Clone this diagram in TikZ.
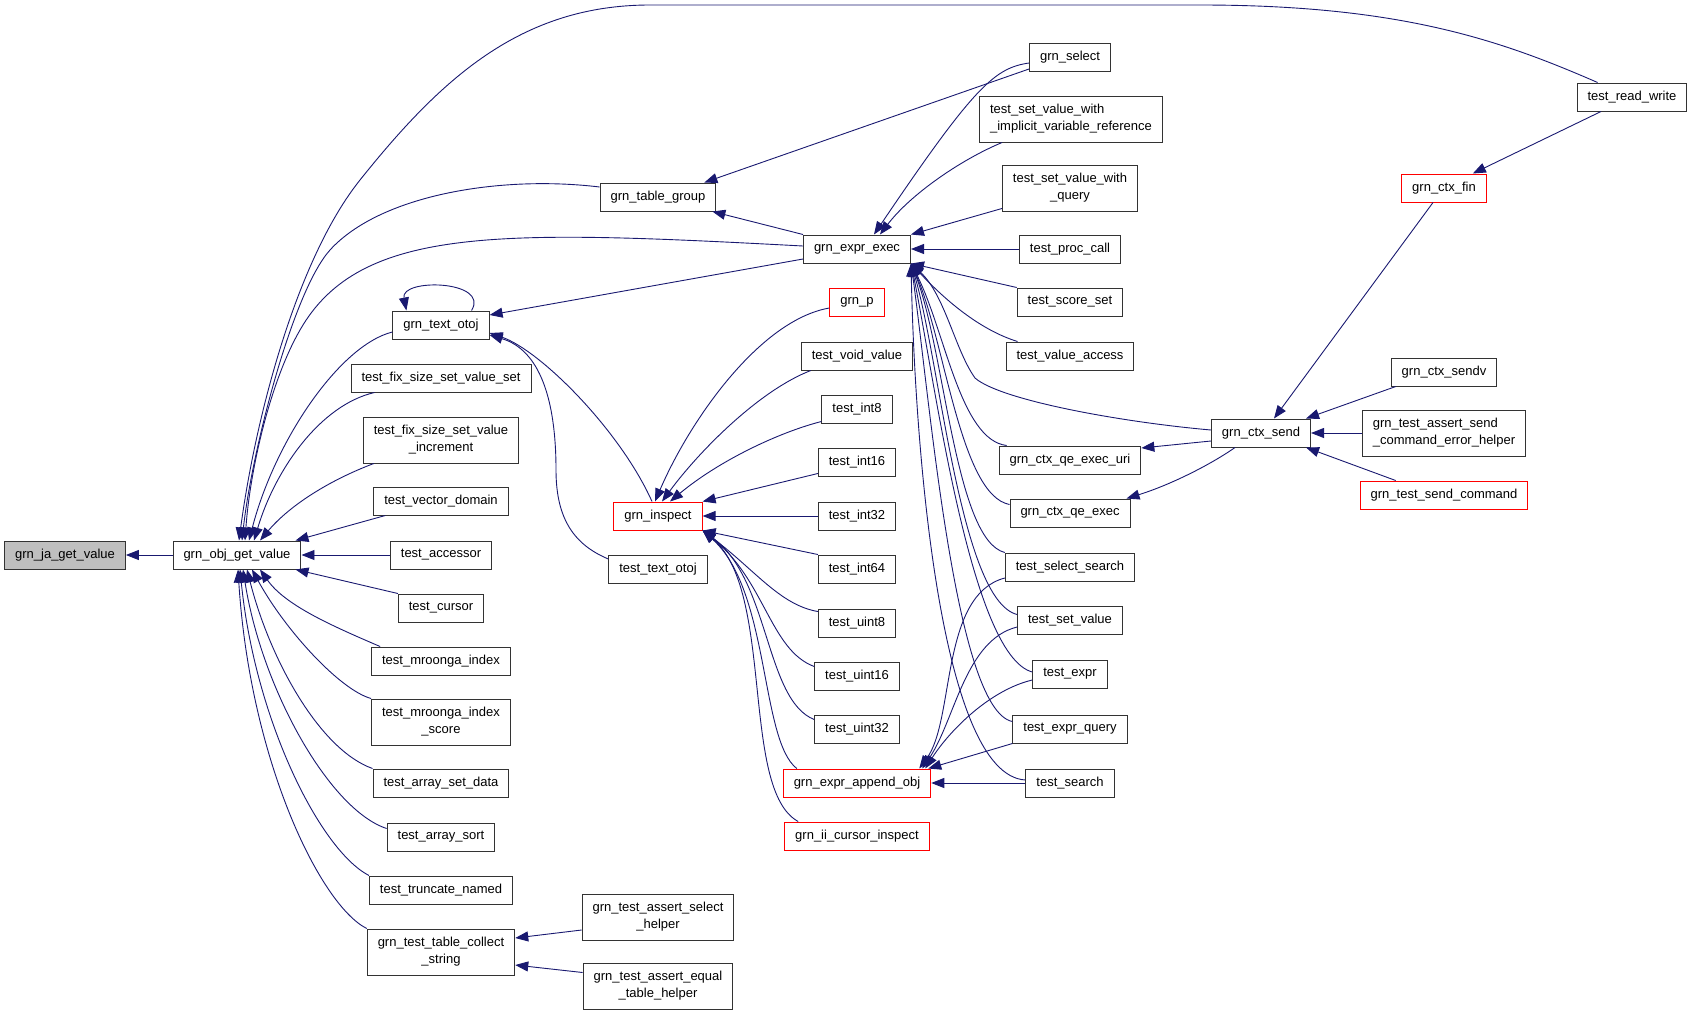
\documentclass[tikz,border=0pt]{standalone}
\usepackage{fontspec}
\setmainfont{Liberation Sans}
\usetikzlibrary{arrows.meta}
\definecolor{edgeblue}{RGB}{25,25,112}
\definecolor{focusgray}{RGB}{191,191,191}

\begin{document}
\begin{tikzpicture}[x=1pt,y=-1pt,
	fn/.style={draw=black!80, line width=1pt, fill=white, inner xsep=10.5pt, inner ysep=0pt,
		minimum height=28pt, font=\fontsize{13}{17}\selectfont, align=center},
	fn2/.style={fn, minimum height=46pt},
	miss/.style={draw=red},
	focus/.style={fill=focusgray},
	call/.style={draw=edgeblue, line width=0.9pt, -{Triangle[length=13pt,width=10pt]}}]
	\useasboundingbox (0,0) rectangle (1693,1015);
	
	\node[fn,focus] (ja) at (65,555) {grn\_ja\_get\_value};
	\node[fn] (obj) at (237,555) {grn\_obj\_get\_value};
	
	\node[fn] (otoj) at (441,325) {grn\_text\_otoj};
	\node[fn] (fixset) at (441,378) {test\_fix\_size\_set\_value\_set};
	\node[fn2] (fixinc) at (441,440) {test\_fix\_size\_set\_value\\\_increment};
	\node[fn] (vecdom) at (441,501) {test\_vector\_domain};
	\node[fn] (accessor) at (441,555) {test\_accessor};
	\node[fn] (cursor) at (441,608) {test\_cursor};
	\node[fn] (mroonga) at (441,661) {test\_mroonga\_index};
	\node[fn2] (mrscore) at (441,722) {test\_mroonga\_index\\\_score};
	\node[fn] (arrset) at (441,783) {test\_array\_set\_data};
	\node[fn] (arrsort) at (441,837) {test\_array\_sort};
	\node[fn] (truncate) at (441,890) {test\_truncate\_named};
	\node[fn2] (collect) at (441,952) {grn\_test\_table\_collect\\\_string};
	
	\node[fn] (tgroup) at (658,197) {grn\_table\_group};
	\node[fn,miss] (inspect) at (658,516) {grn\_inspect};
	\node[fn] (totoj) at (658,569) {test\_text\_otoj};
	\node[fn2] (aselect) at (658,917) {grn\_test\_assert\_select\\\_helper};
	\node[fn2] (aequal) at (658,986) {grn\_test\_assert\_equal\\\_table\_helper};
	
	\node[fn] (exec) at (857,249) {grn\_expr\_exec};
	\node[fn,miss] (grnp) at (857,302) {grn\_p};
	\node[fn] (void) at (857,356) {test\_void\_value};
	\node[fn] (int8) at (857,409) {test\_int8};
	\node[fn] (int16) at (857,462) {test\_int16};
	\node[fn] (int32) at (857,516) {test\_int32};
	\node[fn] (int64) at (857,569) {test\_int64};
	\node[fn] (uint8) at (857,623) {test\_uint8};
	\node[fn] (uint16) at (857,676) {test\_uint16};
	\node[fn] (uint32) at (857,729) {test\_uint32};
	\node[fn,miss] (append) at (857,783) {grn\_expr\_append\_obj};
	\node[fn,miss] (iicursor) at (857,836) {grn\_ii\_cursor\_inspect};
	
	\node[fn] (select) at (1070,57) {grn\_select};
	\node[fn2,align=left] (implicit) at (1071,119) {test\_set\_value\_with\\\_implicit\_variable\_reference};
	\node[fn2] (wquery) at (1070,188) {test\_set\_value\_with\\\_query};
	\node[fn] (proc) at (1070,249) {test\_proc\_call};
	\node[fn] (score) at (1070,302) {test\_score\_set};
	\node[fn] (vaccess) at (1070,356) {test\_value\_access};
	\node[fn] (uri) at (1070,460) {grn\_ctx\_qe\_exec\_uri};
	\node[fn] (qexec) at (1070,513) {grn\_ctx\_qe\_exec};
	\node[fn] (ssearch) at (1070,567) {test\_select\_search};
	\node[fn] (setval) at (1070,620) {test\_set\_value};
	\node[fn] (texpr) at (1070,674) {test\_expr};
	\node[fn] (equery) at (1070,729) {test\_expr\_query};
	\node[fn] (tsearch) at (1070,783) {test\_search};
	
	\node[fn] (send) at (1261,433) {grn\_ctx\_send};
	\node[fn,miss] (fin) at (1444,188) {grn\_ctx\_fin};
	\node[fn] (sendv) at (1444,372) {grn\_ctx\_sendv};
	\node[fn2,align=left] (senderr) at (1444,433) {grn\_test\_assert\_send\\\_command\_error\_helper};
	\node[fn,miss] (sendcmd) at (1444,495) {grn\_test\_send\_command};
	\node[fn] (rw) at (1632,97) {test\_read\_write};
	
	% callers of grn_obj_get_value
	\draw[call] (obj.west) -- (ja.east);
	\draw[call] (accessor.west) -- (obj.east);
	\draw[call] ([xshift=12pt]vecdom.south west) -- ([xshift=-6pt]obj.north east);
	\draw[call] (cursor.north west) -- ([xshift=-6pt]obj.south east);
	\draw[call] ([xshift=11pt]fixinc.south west) .. controls (330,480) and (290,505) .. ([xshift=23pt]obj.north);
	\draw[call] ([xshift=24pt]fixset.south west) .. controls (320,405) and (275,470) .. ([xshift=17pt]obj.north);
	\draw[call] ([yshift=-7pt]otoj.west) .. controls (340,345) and (275,440) .. ([xshift=12pt]obj.north);
	\draw[call] ([yshift=3pt]exec.west) .. controls (500,230) and (360,225) .. (300,330)
		.. controls (270,382) and (250,470) .. ([xshift=8pt]obj.north);
	\draw[call] ([yshift=10pt]tgroup.west) .. controls (500,175) and (380,195) .. (330,250)
		.. controls (293,291) and (252,450) .. ([xshift=5pt]obj.north);
	\draw[call] ([xshift=21pt]rw.north west) .. controls (1500,40) and (1400,5) .. (1200,5) -- (650,5)
		.. controls (520,5) and (440,80) .. (360,180) .. controls (296,260) and (255,420) .. ([xshift=2pt]obj.north);
	\draw[call] ([xshift=9pt]mroonga.north west) .. controls (330,625) and (285,605) .. ([xshift=23pt]obj.south);
	\draw[call] (mrscore.north west) .. controls (340,690) and (285,630) .. ([xshift=15pt]obj.south);
	\draw[call] (arrset.north west) .. controls (320,750) and (270,660) .. ([xshift=10pt]obj.south);
	\draw[call] ([yshift=-6pt]arrsort.north west) .. controls (330,810) and (262,690) .. ([xshift=6pt]obj.south);
	\draw[call] (truncate.north west) .. controls (320,850) and (255,720) .. ([xshift=3pt]obj.south);
	\draw[call] (collect.north west) .. controls (320,905) and (250,760) .. ([xshift=1pt]obj.south);
	
	% grn_table_group and grn_text_otoj
	\draw[call] ([yshift=-12pt]select.west) -- ([xshift=-12pt]tgroup.north east);
	\draw[call] (exec.north west) -- ([xshift=-4pt]tgroup.south east);
	\draw[call] ([yshift=-10pt]exec.west) -- ([yshift=10pt]otoj.east);
	\draw[call] ([xshift=-18pt]otoj.north east) .. controls (490,280) and (400,278) .. ([xshift=14pt]otoj.north west);
	\draw[call] ([xshift=-6pt]inspect.north) .. controls (620,430) and (540,350) .. ([yshift=-8pt]otoj.east);
	\draw[call] ([yshift=10pt]totoj.west) .. controls (575,545) and (556,520) .. (556,470)
		.. controls (556,400) and (540,350) .. ([yshift=-10pt]otoj.east);
	
	% callers of grn_expr_exec
	\draw[call] ([yshift=-6pt]select.west) .. controls (995,68) and (975,85) .. ([xshift=17pt]exec.north);
	\draw[call] ([xshift=23pt]implicit.south west) .. controls (960,160) and (910,195) .. ([xshift=23pt]exec.north);
	\draw[call] ([yshift=3pt]wquery.south west) -- (exec.north east);
	\draw[call] (proc.west) -- (exec.east);
	\draw[call] (score.north west) -- (exec.south east);
	\draw[call] ([xshift=12pt]vaccess.north west) .. controls (980,330) and (945,300) .. (exec.south east);
	\draw[call] ([yshift=3pt]send.west) .. controls (1120,422) and (1000,400) .. (975,378)
		.. controls (955,350) and (945,295) .. (exec.south east);
	\draw[call] ([xshift=8pt]uri.north west) .. controls (960,440) and (945,330) .. (exec.south east);
	\draw[call] ([yshift=-6pt]qexec.north west) .. controls (960,495) and (945,340) .. (exec.south east);
	\draw[call] (ssearch.north west) .. controls (955,540) and (945,350) .. (exec.south east);
	\draw[call] ([yshift=-9pt]setval.north west) .. controls (960,600) and (940,360) .. (exec.south east);
	\draw[call] ([yshift=2pt]texpr.west) .. controls (970,655) and (935,380) .. (exec.south east);
	\draw[call] ([yshift=-7pt]equery.north west) .. controls (955,710) and (930,400) .. (exec.south east);
	\draw[call] ([yshift=3pt]tsearch.west) .. controls (940,775) and (915,450) .. (exec.south east);
	
	% callers of grn_expr_append_obj
	\draw[call] (tsearch.west) -- (append.east);
	\draw[call] (equery.south west) -- ([xshift=-3pt]append.north east);
	\draw[call] ([yshift=-6pt]texpr.west) .. controls (990,690) and (950,730) .. ([xshift=-6pt]append.north east);
	\draw[call] ([yshift=-7pt]setval.west) .. controls (965,640) and (955,720) .. ([xshift=-9pt]append.north east);
	\draw[call] ([yshift=-11pt]ssearch.west) .. controls (940,595) and (955,720) .. ([xshift=-12pt]append.north east);
	
	% callers of grn_inspect
	\draw[call] ([yshift=-6pt]grnp.west) .. controls (760,320) and (690,420) .. ([xshift=-3pt]inspect.north);
	\draw[call] ([xshift=10pt]void.south west) .. controls (760,390) and (700,450) .. ([xshift=4pt]inspect.north);
	\draw[call] ([yshift=2pt]int8.south west) .. controls (780,432) and (720,460) .. ([xshift=12pt]inspect.north);
	\draw[call] ([yshift=3pt]int16.south west) -- (inspect.north east);
	\draw[call] (int32.west) -- (inspect.east);
	\draw[call] (int64.north west) -- (inspect.south east);
	\draw[call] ([yshift=-3pt]uint8.north west) .. controls (780,605) and (755,570) .. (inspect.south east);
	\draw[call] ([yshift=-5pt]uint16.north west) .. controls (770,650) and (765,580) .. (inspect.south east);
	\draw[call] ([yshift=-5pt]uint32.north west) .. controls (765,700) and (770,580) .. (inspect.south east);
	\draw[call] ([xshift=14pt]append.north west) .. controls (760,740) and (770,590) .. (inspect.south east);
	\draw[call] ([xshift=14pt]iicursor.north west) .. controls (740,790) and (775,590) .. (inspect.south east);
	
	% grn_ctx_send
	\draw[call] ([xshift=5pt]sendv.south west) -- ([xshift=-5pt]send.north east);
	\draw[call] (senderr.west) -- (send.east);
	\draw[call] ([xshift=36pt]sendcmd.north west) -- ([xshift=-5pt]send.south east);
	\draw[call] ([xshift=-11pt]fin.south) -- ([xshift=13pt]send.north);
	\draw[call] ([xshift=-31pt]rw.south) -- ([xshift=-14pt]fin.north east);
	\draw[call] ([yshift=-8pt]send.west) -- ([yshift=12pt]uri.east);
	\draw[call] ([xshift=-26pt]send.south) .. controls (1210,465) and (1170,485) .. ([xshift=-4pt]qexec.north east);
	
	% grn_test_table_collect_string
	\draw[call] ([yshift=-13pt]aselect.west) -- ([yshift=14pt]collect.east);
	\draw[call] ([yshift=-10pt]aequal.north west) -- ([yshift=-13pt]collect.east);
\end{tikzpicture}
\end{document}
